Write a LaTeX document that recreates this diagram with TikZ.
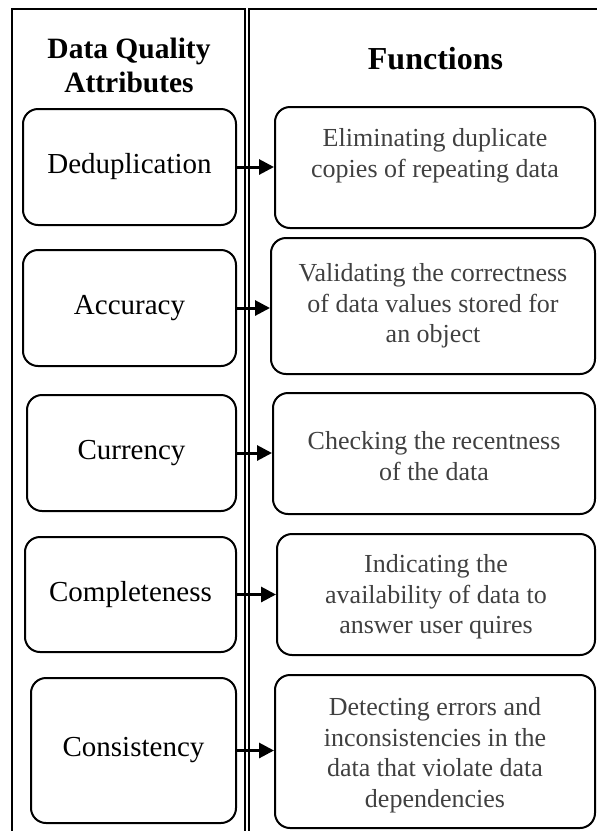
\documentclass[tikz,border=0pt]{standalone}
\usepackage{fontspec}
\setmainfont{Liberation Serif}
\usetikzlibrary{arrows.meta}
\definecolor{textgray}{HTML}{404040}
\begin{document}
\begin{tikzpicture}[x=1pt,y=-1pt,
  frame/.style={line width=1.6pt},
  attrbox/.style={draw,line width=2pt,rounded corners=15pt,inner sep=0pt,
    font=\fontsize{29}{34}\selectfont},
  funcbox/.style={draw,line width=2pt,rounded corners=15pt,inner sep=0pt},
  functext/.style={align=center,inner sep=0pt,text=textgray,
    font=\fontsize{26}{30.5}\selectfont},
  head/.style={align=center,inner sep=0pt,font=\bfseries\fontsize{29.5}{34}\selectfont},
  link/.style={line width=3pt,-{Triangle[length=15pt,width=15pt]}}]
\useasboundingbox (0,0) rectangle (597,831);

% column frames
\draw[frame] (12,845) -- (12,9) -- (245,9) -- (245,845);
\draw[frame] (249,845) -- (249,9) -- (610,9);

% headers
\node[head] (h1) at (129,65) {Data Quality\\Attributes};
\node[head,font=\bfseries\fontsize{32}{36}\selectfont] (h2) at (435.5,59) {Functions};

% attribute boxes
\node[attrbox,minimum width=213pt,minimum height=116pt] (a1) at (129.5,167) {Deduplication};
\node[attrbox,minimum width=213pt,minimum height=116pt] (a2) at (129.5,308) {Accuracy};
\node[attrbox,minimum width=209pt,minimum height=116pt] (a3) at (131.5,453) {Currency};
\node[attrbox,minimum width=211pt,minimum height=115pt] (a4) at (130.5,594.5) {Completeness};
\node[attrbox,minimum width=205pt,minimum height=145pt] (a5) at (133.5,750.5) {Consistency};

% function boxes
\node[funcbox,minimum width=320pt,minimum height=121pt] (f1) at (435,167.5) {};
\node[funcbox,minimum width=324pt,minimum height=136pt] (f2) at (433,306) {};
\node[funcbox,minimum width=322pt,minimum height=121pt] (f3) at (434,453.5) {};
\node[funcbox,minimum width=318pt,minimum height=121pt] (f4) at (436,594.5) {};
\node[funcbox,minimum width=320pt,minimum height=153pt] (f5) at (435,751.5) {};

% function texts
\node[functext] (t1) at (435,156) {Eliminating duplicate\\copies of repeating data};
\node[functext] (t2) at (433,306) {Validating the correctness\\of data values stored for\\an object};
\node[functext] (t3) at (434,456) {Checking the recentness\\of the data};
\node[functext] (t4) at (436,597) {Indicating the\\availability of data to\\answer user quires};
\node[functext] (t5) at (435,755) {Detecting errors and\\inconsistencies in the\\data that violate data\\dependencies};

% connectors
\draw[link] (a1.east) -- (a1.east -| f1.west);
\draw[link] (a2.east) -- (a2.east -| f2.west);
\draw[link] (a3.east) -- (a3.east -| f3.west);
\draw[link] (a4.east) -- (a4.east -| f4.west);
\draw[link] (a5.east) -- (a5.east -| f5.west);
\end{tikzpicture}
\end{document}
